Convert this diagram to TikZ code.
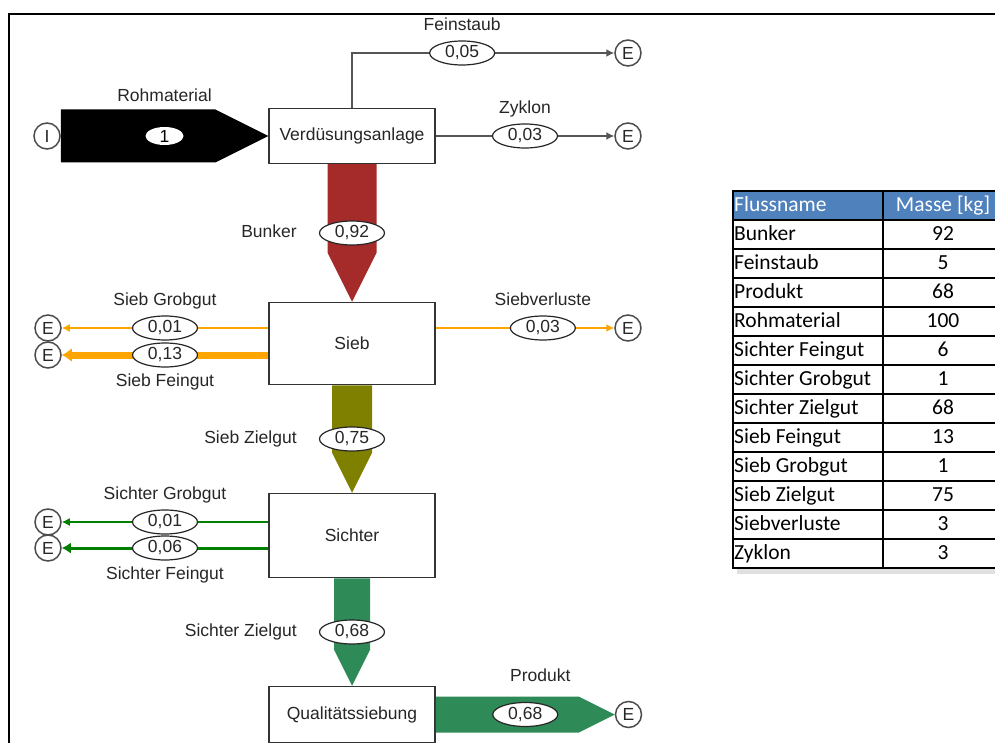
\documentclass[tikz,border=0pt]{standalone}
\usepackage{fontspec}
\setmainfont{Liberation Sans}
\newfontfamily\tabfont{Carlito}
\usetikzlibrary{arrows.meta,calc,positioning,shapes.geometric}

\definecolor{bunkerred}{RGB}{165,42,42}
\definecolor{siebolive}{RGB}{128,128,0}
\definecolor{sichtergreen}{RGB}{46,139,87}
\definecolor{siebline}{RGB}{255,165,0}
\definecolor{sichterline}{RGB}{0,128,0}
\definecolor{staubgrey}{RGB}{85,85,85}
\definecolor{headblue}{RGB}{79,129,189}

% broad flow downwards: from, to, width, colour
\newcommand{\flowdown}[4]{%
  \fill[#4] ($(#1.south)+(-#3/2,0)$) -- ($(#1.south)+(#3/2,0)$)
    -- ($(#2.north)+(#3/2,-#3)$) -- (#2.north)
    -- ($(#2.north)+(-#3/2,-#3)$) -- cycle;}
% broad flow to the right: from, to, width, colour
\newcommand{\flowright}[4]{%
  \fill[#4] ($(#1.east)+(0,-#3/2)$) -- ($(#2.west)+(-#3,-#3/2)$)
    -- (#2.west) -- ($(#2.west)+(-#3,#3/2)$)
    -- ($(#1.east)+(0,#3/2)$) -- cycle;}

\begin{document}
\begin{tikzpicture}[
    x = 1pt, y = -1pt, % pixel grid, y runs downwards
    > = {Latex[length=8pt,width=8pt]}, % arrow head style
    font = \fontsize{17.5}{20}\selectfont,
    text = black!85,
    node distance = 4.5pt, % label to value
    unit/.style = {draw=black!80, line width=1.5pt, fill=white,
        minimum width=166pt},
    endpt/.style = {circle, draw=black!70, line width=1.5pt, fill=white,
        minimum size=26pt, inner sep=0pt},
    flowval/.style = {ellipse, draw=black!85, line width=1.2pt, fill=white,
        text=black!85, minimum width=65pt, minimum height=24pt, inner sep=0pt},
    flowname/.style = {inner sep=1pt, text height=13pt, text depth=4pt},
    stream/.style = {line width=1.5pt, ->},
    tabcell/.style = {font=\tabfont\fontsize{21.5}{24}\selectfont, inner sep=1pt,
        text=black, text height=12pt, text depth=5pt}
    ]

    \useasboundingbox (0,0) rectangle (995,743);
    \clip (0,0) rectangle (995,743);
    \draw[line width=2pt] (9,14) rectangle (1010,760);

    % units
    \node[unit, minimum height=55pt] (verd) at (352,136) {Verdüsungsanlage};
    \node[unit, minimum height=82pt] (sieb) [below=137.5pt of verd] {Sieb};
    \node[unit, minimum height=84pt] (sichter) [below=107.5pt of sieb] {Sichter};
    \node[unit, minimum height=56pt] (quali) [below=107.5pt of sichter] {Qualitätssiebung};

    % sources and sinks
    \node[endpt] (iRoh) at (47,136) {I};
    \node[endpt] (eFein) at (628,53) {E};
    \node[endpt] (eZyk) at (628,136) {E};
    \node[endpt] (eSv) at (628,328) {E};
    \node[endpt] (eSg) at (48,328) {E};
    \node[endpt] (eSf) at (48,355) {E};
    \node[endpt] (eCg) at (48,522) {E};
    \node[endpt] (eCf) at (48,548) {E};
    \node[endpt] (eProd) [right=179pt of quali] {E};

    % broad flows
    \flowright{iRoh}{verd}{53}{black}
    \flowdown{verd}{sieb}{49}{bunkerred}
    \flowdown{sieb}{sichter}{40}{siebolive}
    \flowdown{sichter}{quali}{36}{sichtergreen}
    \flowright{quali}{eProd}{36}{sichtergreen}

    \node[ellipse, fill=white, text=black, minimum width=38pt, minimum height=18pt,
        inner sep=0pt] (vRoh) at ($(iRoh.east)!0.5!(verd.west)$) {1};
    \node[flowname, above=20pt of vRoh] (nRoh) {Rohmaterial};
    \node[flowval] (vBunk) at ($(verd.south)!0.5!(sieb.north)$) {0,92};
    \node[flowname, left=21pt of vBunk] (nBunk) {Bunker};
    \node[flowval] (vSz) at ($(sieb.south)!0.5!(sichter.north)$) {0,75};
    \node[flowname, left=21pt of vSz] (nSz) {Sieb Zielgut};
    \node[flowval] (vCz) at ($(sichter.south)!0.5!(quali.north)$) {0,68};
    \node[flowname, left=21pt of vCz] (nCz) {Sichter Zielgut};
    \node[flowval] (vProd) at ($(quali.east)!0.5!(eProd.west)$) {0,68};
    \node[flowname, above=15pt of vProd, xshift=15pt] (nProd) {Produkt};

    % side streams
    \draw[stream, staubgrey] (verd.north) |- node[flowval, pos=0.71] (vFein) {0,05} (eFein);
    \draw[stream, staubgrey] (verd.east) -- node[flowval] (vZyk) {0,03} (eZyk);
    \draw[stream, siebline] (sieb.east |- eSv) -- node[flowval, pos=0.6] (vSv) {0,03} (eSv);
    \draw[stream, siebline] (sieb.west |- eSg) -- node[flowval] (vSg) {0,01} (eSg);
    \draw[stream, siebline, line width=7pt, -{Latex[length=10pt,width=14pt]}]
        (sieb.west |- eSf) -- node[flowval] (vSf) {0,13} (eSf);
    \draw[stream, sichterline] (sichter.west |- eCg) -- node[flowval] (vCg) {0,01} (eCg);
    \draw[stream, sichterline, line width=3pt, -{Latex[length=9pt,width=11pt]}]
        (sichter.west |- eCf) -- node[flowval] (vCf) {0,06} (eCf);

    \node[flowname, above=of vFein] (nFein) {Feinstaub};
    \node[flowname, above=of vZyk] (nZyk) {Zyklon};
    \node[flowname, above=of vSv] (nSv) {Siebverluste};
    \node[flowname, above=of vSg] (nSg) {Sieb Grobgut};
    \node[flowname, below=of vSf] (nSf) {Sieb Feingut};
    \node[flowname, above=of vCg] (nCg) {Sichter Grobgut};
    \node[flowname, below=of vCf] (nCf) {Sichter Feingut};

    % mass table
    \fill[black!12] (737,568) rectangle (1000,574);
    \fill[headblue] (733,191) rectangle (1000,220);
    \node[tabcell, anchor=west, text=white] (hName) at (733,208) {Flussname};
    \node[tabcell, text=white] (hMass) at (943,208) {Masse [kg]};
    \foreach \fname/\fmass [count=\i] in {Bunker/92, Feinstaub/5, Produkt/68,
        Rohmaterial/100, Sichter Feingut/6, Sichter Grobgut/1, Sichter Zielgut/68,
        Sieb Feingut/13, Sieb Grobgut/1, Sieb Zielgut/75, Siebverluste/3, Zyklon/3}{
      \node[tabcell, anchor=west] (tn\i) at (733,208+29*\i) {\fname};
      \node[tabcell] (tm\i) at (943,208+29*\i) {\fmass};
      \draw[line width=1.2pt] (733,220+29*\i) -- (1000,220+29*\i);
    }
    \draw[line width=2pt] (733,220) -- (1000,220);
    \draw[line width=1.5pt] (883,191) -- (883,568);
    \draw[line width=2pt] (733,191) rectangle (1000,568);
\end{tikzpicture}
\end{document}
